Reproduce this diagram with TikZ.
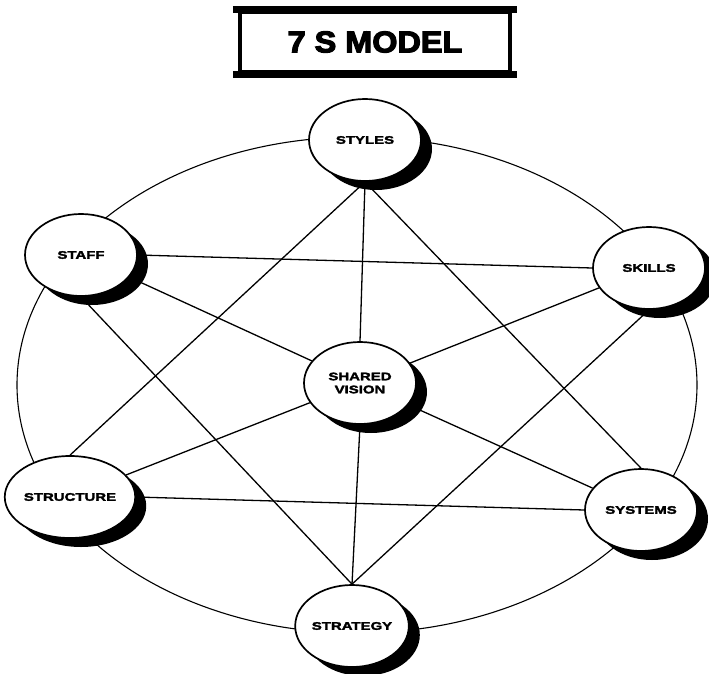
\documentclass[tikz,border=0pt]{standalone}
\usepackage{fontspec}
\newfontfamily\labfont{Liberation Sans}[UprightFont={* Bold}, FakeStretch=1.36, FakeBold=2.5]
\newfontfamily\titfont{Liberation Sans}[UprightFont={* Bold}, FakeStretch=1.08, FakeBold=4]
\usetikzlibrary{shapes.geometric,shadows,backgrounds}
\begin{document}
\begin{tikzpicture}[x=1pt,y=-1pt,
  oval/.style={ellipse, draw, line width=1.7pt, fill=white, minimum width=112pt,
    minimum height=82pt, inner sep=0pt, align=center,
    font=\labfont\fontsize{11}{13}\selectfont,
    drop shadow={shadow xshift=11pt, shadow yshift=-9pt, fill=black, opacity=1}},
  titlebox/.style={draw, line width=4.5pt, minimum width=270pt, minimum height=60pt,
    inner sep=0pt, font=\titfont\fontsize{30}{32}\selectfont},
  bar/.style={line width=7pt},
  link/.style={line width=1.3pt},
  ring/.style={line width=1.1pt}]
\useasboundingbox (0,0) rectangle (709,674);
% title
\node[titlebox] (title) at (375,42) {7 S MODEL};
\draw[bar] ([xshift=-5pt]title.north west) -- ([xshift=5pt]title.north east);
\draw[bar] ([xshift=-5pt]title.south west) -- ([xshift=5pt]title.south east);
% nodes
\node[oval] (styles) at (365,140) {STYLES};
\node[oval] (staff) at (81,255) {STAFF};
\node[oval] (skills) at (649,268) {SKILLS};
\node[oval] (vision) at (360,383) {SHARED\\VISION};
\node[oval] (structure) at (70,497) {STRUCTURE};
\node[oval] (systems) at (641,510) {SYSTEMS};
\node[oval] (strategy) at (352,626) {STRATEGY};
% ring and links behind
\begin{pgfonlayer}{background}
\draw[ring] (357,385) ellipse [x radius=340pt, y radius=248pt];
\draw[link] (styles.south) -- (vision.north);
\draw[link] (styles.south) -- (structure.north);
\draw[link] (styles.south) -- (systems.north);
\draw[link] (staff.east) -- (skills.west);
\draw[link] (staff) -- (vision);
\draw[link] (staff.south) -- (strategy.north);
\draw[link] (skills) -- (vision);
\draw[link] (skills.south) -- (strategy.north);
\draw[link] (structure) -- (vision);
\draw[link] (structure.east) -- (systems.west);
\draw[link] (systems) -- (vision);
\draw[link] (vision.south) -- (strategy.north);
\end{pgfonlayer}
\end{tikzpicture}
\end{document}
